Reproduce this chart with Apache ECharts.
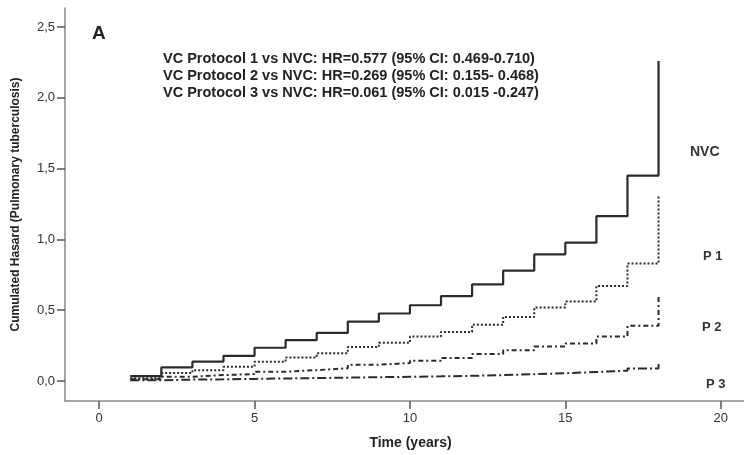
<!DOCTYPE html>
<html>
<head>
<meta charset="utf-8">
<script src="https://cdn.jsdelivr.net/npm/echarts@6/dist/echarts.min.js"></script>
<style>
  html, body { margin: 0; padding: 0; background: #fff; }
  #chart { width: 744px; height: 455px; }
</style>
</head>
<body>
<div id="chart"></div>
<script>
// years of follow-up (hazard value holds from this year on)
const years = [1, 2, 3, 4, 5, 6, 7, 8, 9, 10, 11, 12, 13, 14, 15, 16, 17, 18];
const nvc = [0.035, 0.096, 0.137, 0.178, 0.235, 0.289, 0.34, 0.42, 0.477, 0.535, 0.60, 0.683, 0.78, 0.894, 0.977, 1.164, 1.45, 2.26];
const p1 = [0.02, 0.056, 0.077, 0.10, 0.136, 0.167, 0.197, 0.24, 0.27, 0.315, 0.347, 0.397, 0.453, 0.519, 0.561, 0.671, 0.83, 1.305];
const p2 = [0.012, 0.03, 0.042, 0.049, 0.066, 0.077, 0.09, 0.115, 0.127, 0.143, 0.162, 0.19, 0.218, 0.244, 0.265, 0.315, 0.39, 0.60];
const p3 = [0.005, 0.01, 0.012, 0.015, 0.018, 0.021, 0.024, 0.027, 0.03, 0.033, 0.037, 0.042, 0.048, 0.055, 0.064, 0.073, 0.088, 0.12];

const xTicks = [0, 5, 10, 15, 20];
const yTicks = [0, 0.5, 1, 1.5, 2, 2.5];
const yTickLabels = ['0,0', '0,5', '1,0', '1,5', '2,0', '2,5'];

const hrLines = [
    'VC Protocol 1 vs NVC: HR=0.577 (95% CI: 0.469-0.710)',
    'VC Protocol 2 vs NVC: HR=0.269 (95% CI: 0.155- 0.468)',
    'VC Protocol 3 vs NVC: HR=0.061 (95% CI: 0.015 -0.247)'
];

const pairs = (vals) => years.map((t, i) => [t, vals[i]]);
const font = 'Liberation Sans, Arial, sans-serif';

const myChart = echarts.init(document.getElementById('chart'));

function stepSeries(name, vals, type, width) {
    return {
        name: name,
        type: 'line',
        step: 'end',
        showSymbol: false,
        animation: false,
        data: pairs(vals),
        lineStyle: { color: '#2b2b2b', width: width, type: type }
    };
}

const option = {
    animation: false,
    backgroundColor: '#fff',
    grid: { left: 65, right: 0, top: 8, bottom: 53 },
    xAxis: {
        type: 'value',
        min: -1.1,
        max: 20.75,
        name: 'Time (years)',
        nameLocation: 'middle',
        nameGap: 35,
        nameTextStyle: { color: '#222', fontSize: 14, fontWeight: 'bold', fontFamily: font, padding: [0, 0, 0, 12] },
        axisLine: { onZero: false, lineStyle: { color: '#8a8a8a', width: 1.5 } },
        axisTick: { customValues: xTicks, length: 8, lineStyle: { color: '#555', width: 1.5 } },
        axisLabel: { customValues: xTicks, color: '#333', fontSize: 13, fontFamily: font, margin: 11 },
        splitLine: { show: false }
    },
    yAxis: {
        type: 'value',
        min: -0.141,
        max: 2.634,
        name: 'Cumulated Hasard (Pulmonary tuberculosis)',
        nameLocation: 'middle',
        nameGap: 43,
        nameTextStyle: { color: '#222', fontSize: 12, fontWeight: 'bold', fontFamily: font },
        axisLine: { show: true, onZero: false, lineStyle: { color: '#8a8a8a', width: 1.5 } },
        axisTick: { show: true, customValues: yTicks, length: 8, lineStyle: { color: '#555', width: 1.5 } },
        axisLabel: {
            customValues: yTicks,
            color: '#333',
            fontSize: 13,
            fontFamily: font,
            margin: 10,
            formatter: (v) => yTickLabels[yTicks.indexOf(v)] || ''
        },
        splitLine: { show: false }
    },
    graphic: [
        { type: 'text', left: 92, top: 24, style: { text: 'A', font: 'bold 19px ' + font, fill: '#222' } },
        {
            type: 'text', left: 163, top: 50,
            style: { text: hrLines.join('\n'), font: 'bold 14.5px ' + font, fill: '#222', lineHeight: 17 }
        },
        { type: 'text', left: 690, top: 145, style: { text: 'NVC', font: 'bold 14px ' + font, fill: '#333' } },
        { type: 'text', left: 703, top: 250, style: { text: 'P 1', font: 'bold 13px ' + font, fill: '#333' } },
        { type: 'text', left: 702, top: 321, style: { text: 'P 2', font: 'bold 13px ' + font, fill: '#333' } },
        { type: 'text', left: 706, top: 378, style: { text: 'P 3', font: 'bold 13px ' + font, fill: '#333' } }
    ],
    series: [
        stepSeries('P3', p3, [9, 3, 2, 3], 2),
        stepSeries('P2', p2, [5, 3, 2, 3], 2),
        stepSeries('P1', p1, [2, 2], 2),
        stepSeries('NVC', nvc, 'solid', 2.2)
    ]
};

myChart.setOption(option);
</script>
</body>
</html>
